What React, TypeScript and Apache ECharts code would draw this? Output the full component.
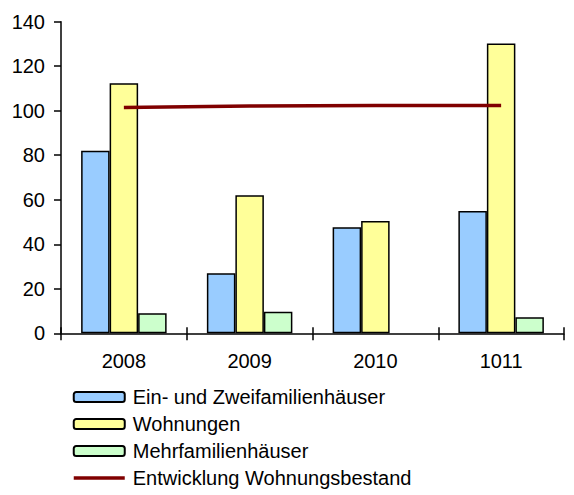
import React, { useEffect, useRef } from "react";
import * as echarts from "echarts";

// Jahre / Zeiträume
const categories = ["2008", "2009", "2010", "1011"];

// Fertiggestellte Wohneinheiten je Gebäudeart
const einZweifamilien = [82, 27, 47.6, 55];
const wohnungen = [112.3, 62, 50.4, 130.2];
const mehrfamilien = [9, 9.7, null, 7.2];

// Bestandsentwicklung
const bestand = [101.4, 102.1, 102.3, 102.3];

const yTicks = { min: 0, max: 140, interval: 20 };

const FONT = "'Liberation Sans', Arial, sans-serif";

export default function App() {
  const ref = useRef<HTMLDivElement>(null);

  useEffect(() => {
    if (!ref.current) return;
    const chart = echarts.init(ref.current, undefined, { renderer: "svg" });
    const barStyle = (color: string) => ({
      color,
      borderColor: "#000",
      borderWidth: 1.5,
    });
    chart.setOption({
      animation: false,
      backgroundColor: "#fff",
      textStyle: { fontFamily: FONT },
      grid: { left: 61, right: 10, top: 21.7, bottom: 161.7, containLabel: false },
      legend: {
        orient: "vertical",
        left: 72,
        top: 387,
        padding: 0,
        itemWidth: 51,
        itemHeight: 10,
        itemGap: 7,
        selectedMode: false,
        textStyle: {
          fontFamily: FONT,
          fontSize: 20,
          color: "#000",
          lineHeight: 20,
          padding: [0, 0, 0, 3],
        },
        data: [
          "Ein- und Zweifamilienhäuser",
          "Wohnungen",
          "Mehrfamilienhäuser",
          {
            name: "Entwicklung Wohnungsbestand",
            itemStyle: { opacity: 0 },
            lineStyle: { width: 3.5, color: "#800000" },
          },
        ],
      },
      xAxis: [
        {
          type: "category",
          data: categories,
          axisLine: { lineStyle: { color: "#000", width: 1.5 } },
          axisTick: { show: true, length: 7, lineStyle: { color: "#000", width: 1.5 } },
          axisLabel: { color: "#000", fontSize: 20, margin: 18, fontFamily: FONT },
          splitLine: { show: false },
        },
        {
          type: "category",
          data: categories,
          position: "bottom",
          axisLine: { show: false },
          axisTick: { show: true, inside: true, length: 6, lineStyle: { color: "#000", width: 1.5 } },
          axisLabel: { show: false },
          splitLine: { show: false },
        },
      ],
      yAxis: {
        type: "value",
        min: yTicks.min,
        max: yTicks.max,
        interval: yTicks.interval,
        axisLine: { show: true, lineStyle: { color: "#000", width: 1.5 } },
        axisTick: { show: true, length: 7, lineStyle: { color: "#000", width: 1.5 } },
        axisLabel: { color: "#000", fontSize: 20, margin: 16, fontFamily: FONT },
        splitLine: { show: false },
      },
      series: [
        {
          name: "Ein- und Zweifamilienhäuser",
          type: "bar",
          data: einZweifamilien,
          barWidth: 28.5,
          barGap: "0%",
          itemStyle: barStyle("#99ccff"),
        },
        {
          name: "Wohnungen",
          type: "bar",
          data: wohnungen,
          barWidth: 28.5,
          barGap: "0%",
          itemStyle: barStyle("#ffff99"),
        },
        {
          name: "Mehrfamilienhäuser",
          type: "bar",
          data: mehrfamilien,
          barWidth: 28.5,
          barGap: "0%",
          itemStyle: barStyle("#ccffcc"),
        },
        {
          name: "Entwicklung Wohnungsbestand",
          type: "line",
          data: bestand,
          symbol: "none",
          lineStyle: { color: "#800000", width: 3.5 },
          itemStyle: { color: "#800000" },
          z: 5,
        },
      ],
    });
    return () => chart.dispose();
  }, []);

  return <div ref={ref} style={{ width: 574, height: 495, position: "absolute", left: 0, top: 0 }} />;
}
